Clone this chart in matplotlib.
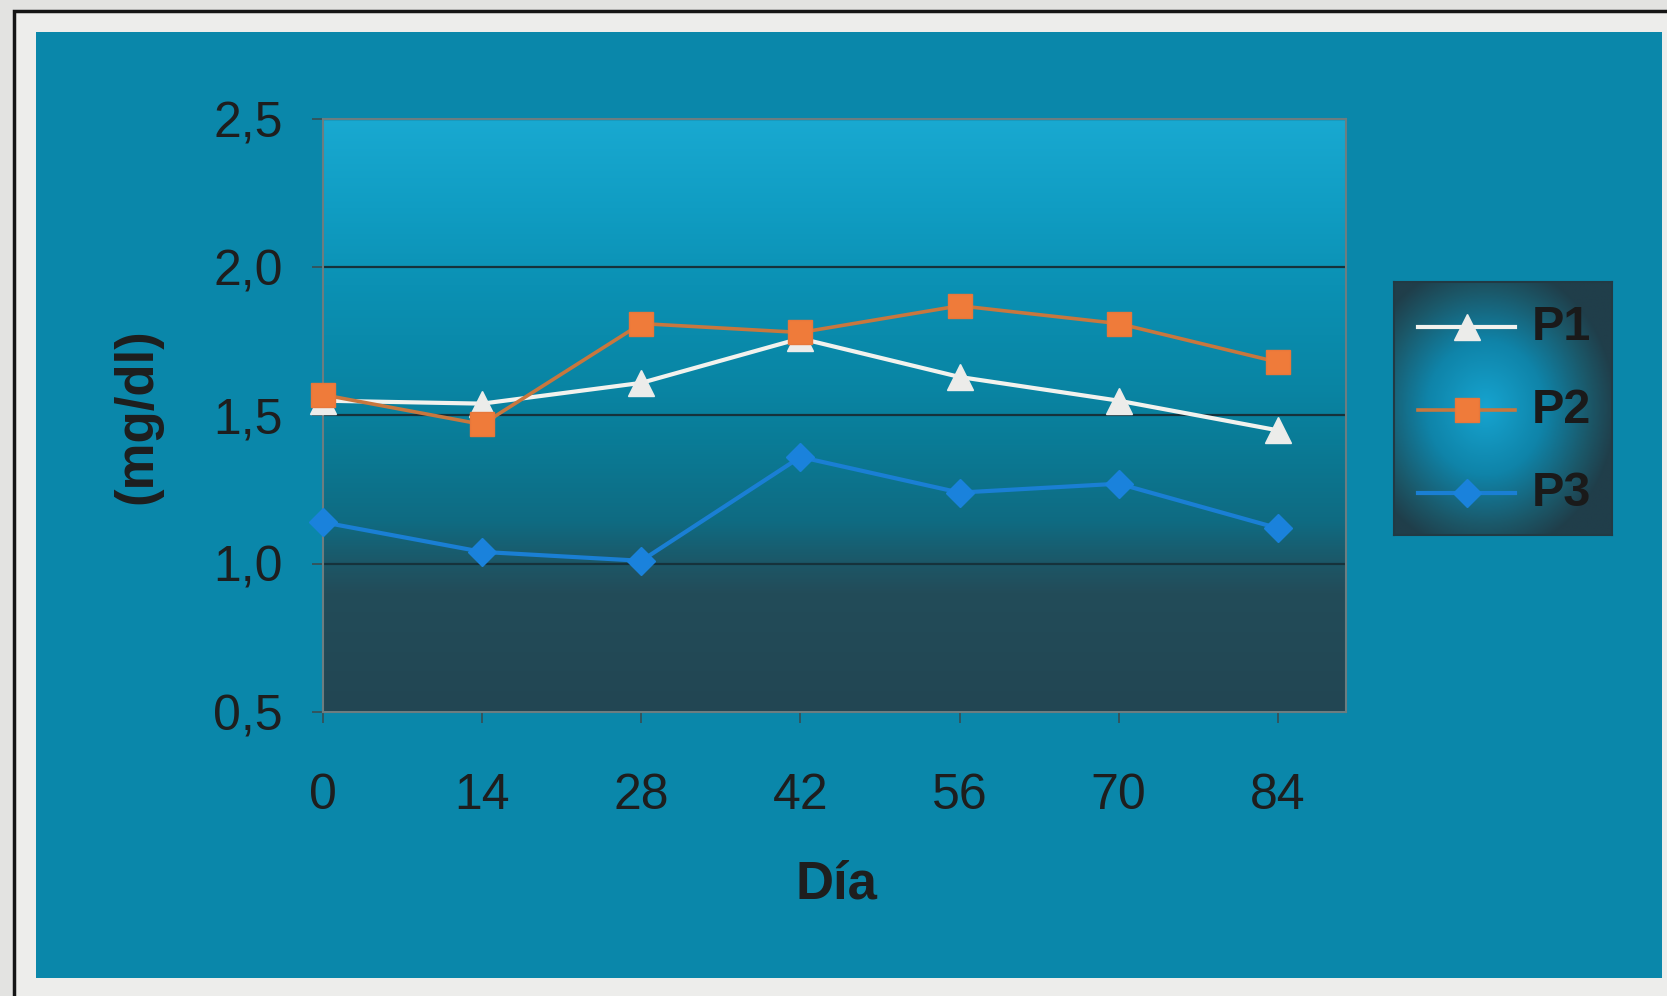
import numpy as np
import matplotlib
matplotlib.use("Agg")
import matplotlib.pyplot as plt
from matplotlib.colors import LinearSegmentedColormap
from matplotlib.patches import Rectangle

# Series data
days = [0, 14, 28, 42, 56, 70, 84]
p1 = [1.55, 1.54, 1.61, 1.76, 1.63, 1.55, 1.45]
p2 = [1.57, 1.47, 1.81, 1.78, 1.87, 1.81, 1.68]
p3 = [1.14, 1.04, 1.01, 1.36, 1.24, 1.27, 1.12]
series_names = ["P1", "P2", "P3"]
y_ticks = [0.5, 1.0, 1.5, 2.0, 2.5]
y_tick_labels = ["0,5", "1,0", "1,5", "2,0", "2,5"]
x_label = "Día"
y_label = "(mg/dl)"

plt.rcParams["font.family"] = ["Liberation Sans", "DejaVu Sans"]

W, H = 1667, 996
fig = plt.figure(figsize=(W / 100, H / 100), dpi=100)
fig.patch.set_facecolor("#e3e3e1")


def fx(px):
    return px / W


def fy(py):
    return 1 - py / H


# Outer frame and teal panel
fig.add_artist(Rectangle((fx(14), -0.05), 1.2, fy(11) + 0.05, transform=fig.transFigure,
                         facecolor="#ededeb", edgecolor="#151515", lw=2.5, zorder=-3))
fig.add_artist(Rectangle((fx(36), fy(978)), (1662 - 36) / W, (978 - 32) / H,
                         transform=fig.transFigure, facecolor="#0a87aa",
                         edgecolor="none", zorder=-2))

# Plot area
ax = fig.add_axes([fx(323), fy(712), 1023 / W, 593 / H])
ax.set_zorder(2)
ax.set_xlim(0, 90)
ax.set_ylim(0.5, 2.5)

grad_cmap = LinearSegmentedColormap.from_list(
    "plotbg",
    [(0.0, "#224653"), (0.2, "#234c59"), (0.25, "#1c5767"), (0.32, "#0f6b82"),
     (0.45, "#0a7b96"), (0.55, "#0985a4"), (0.72, "#0b91b4"), (0.85, "#109dc3"),
     (1.0, "#19a9d1")])
grad = np.linspace(0, 1, 256).reshape(-1, 1)
ax.imshow(grad, cmap=grad_cmap, aspect="auto", origin="lower",
          extent=[0, 90, 0.5, 2.5], zorder=0)

ax.set_axisbelow(True)
ax.yaxis.grid(True, color="#16323b", lw=1.6)
ax.set_yticks(y_ticks)
ax.set_yticklabels(y_tick_labels)
ax.set_xticks(days)
ax.set_xticklabels([str(d) for d in days])
for s in ax.spines.values():
    s.set_color("#6c7d80")
    s.set_linewidth(1.5)
ax.tick_params(axis="both", direction="out", length=8, width=1.2, color="#3a4d52",
               labelcolor="#1e1e1e", labelsize=36)
ax.tick_params(axis="y", pad=21)
ax.tick_params(axis="x", pad=36)

styles = [
    dict(color="#f2f2ee", lw=3, marker="^", ms=19, mfc="#ececea", mec="#ececea"),
    dict(color="#c8773e", lw=2.6, marker="s", ms=17, mfc="#ef7b3a", mec="#e8773a"),
    dict(color="#1a7fd4", lw=3, marker="D", ms=14, mfc="#1a82dc", mec="#1a82dc"),
]
z_orders = [3, 4, 3]
for vals, style, z in zip([p1, p2, p3], styles, z_orders):
    ax.plot(days, vals, zorder=z, clip_on=False, **style)

fig.text(fx(836), fy(884), x_label, ha="center", va="center", fontsize=38,
         fontweight="bold", color="#1e1e1e")
fig.text(fx(137), fy(416), y_label, ha="center", va="center", fontsize=38,
         fontweight="bold", color="#1e1e1e", rotation=90)

# Legend box with radial shading
lax = fig.add_axes([fx(1394), fy(535), 218 / W, 253 / H])
lax.set_zorder(2)
lax.set_xlim(0, 1)
lax.set_ylim(0, 1)
lx, ly = np.meshgrid(np.linspace(0, 1, 200), np.linspace(0, 1, 240))
r = np.clip(np.sqrt(((lx - 0.42) / 0.6) ** 2 + ((ly - 0.5) / 0.58) ** 2), 0, 1)
leg_cmap = LinearSegmentedColormap.from_list(
    "legbg", [(0.0, "#16a4d0"), (0.45, "#0f84a9"), (0.8, "#1b5869"), (1.0, "#203e4a")])
lax.imshow(r, cmap=leg_cmap, aspect="auto", origin="lower", extent=[0, 1, 0, 1],
           vmin=0, vmax=1)
for s in lax.spines.values():
    s.set_color("#213a44")
    s.set_linewidth(1.5)
lax.set_xticks([])
lax.set_yticks([])

legend_y = [0.822, 0.494, 0.166]
for name, style, yy in zip(series_names, styles, legend_y):
    lax.plot([0.11, 0.555], [yy, yy], color=style["color"], lw=style["lw"])
    lax.plot([0.333], [yy], linestyle="none", marker=style["marker"], ms=style["ms"],
             mfc=style["mfc"], mec=style["mec"])
    lax.text(0.63, yy, name, ha="left", va="center", fontsize=35,
             fontweight="bold", color="#1a1a1a")

fig.savefig("out.png", dpi=100, facecolor=fig.get_facecolor())
